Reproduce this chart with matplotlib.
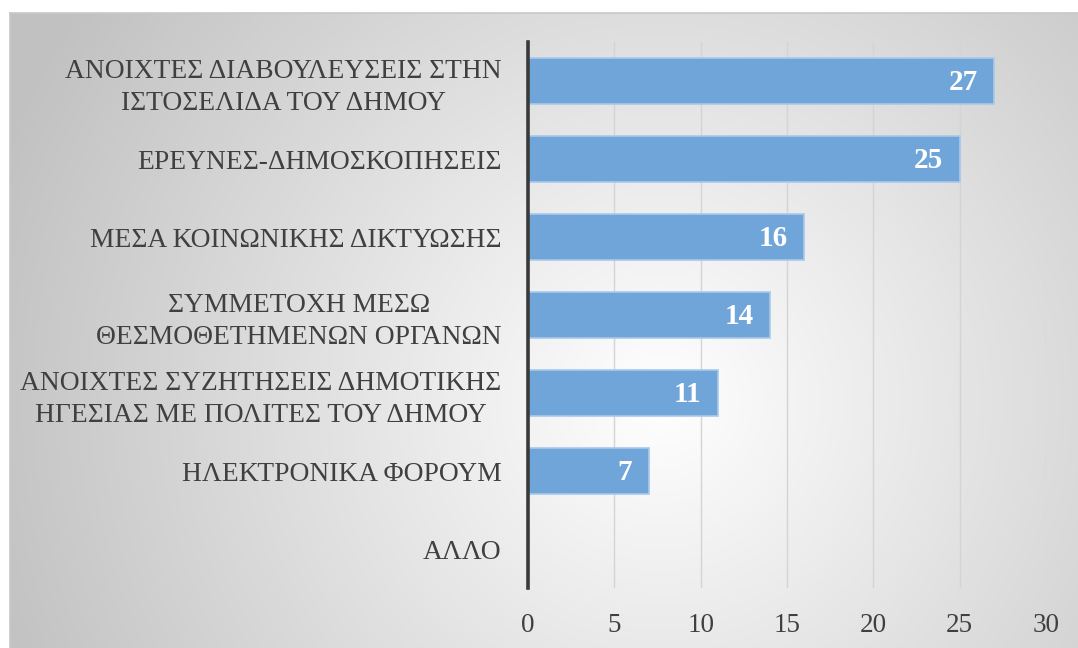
import numpy as np
import matplotlib.pyplot as plt

categories = [
    "ΑΝΟΙΧΤΕΣ ΔΙΑΒΟΥΛΕΥΣΕΙΣ ΣΤΗΝ\nΙΣΤΟΣΕΛΙΔΑ ΤΟΥ ΔΗΜΟΥ",
    "ΕΡΕΥΝΕΣ-ΔΗΜΟΣΚΟΠΗΣΕΙΣ",
    "ΜΕΣΑ ΚΟΙΝΩΝΙΚΗΣ ΔΙΚΤΥΩΣΗΣ",
    "ΣΥΜΜΕΤΟΧΗ ΜΕΣΩ\nΘΕΣΜΟΘΕΤΗΜΕΝΩΝ ΟΡΓΑΝΩΝ",
    "ΑΝΟΙΧΤΕΣ ΣΥΖΗΤΗΣΕΙΣ ΔΗΜΟΤΙΚΗΣ\nΗΓΕΣΙΑΣ ΜΕ ΠΟΛΙΤΕΣ ΤΟΥ ΔΗΜΟΥ",
    "ΗΛΕΚΤΡΟΝΙΚΑ ΦΟΡΟΥΜ",
    "ΑΛΛΟ",
]
values = [27, 25, 16, 14, 11, 7, 0]
xticks = [0, 5, 10, 15, 20, 25, 30]

plt.rcParams['font.family'] = ['Liberation Serif', 'DejaVu Serif']

W, H = 1078, 648
fig = plt.figure(figsize=(W / 100, H / 100), dpi=100)
fig.patch.set_facecolor('white')

# radial gradient panel behind the chart
bx0, by0 = 10, 13
bg = fig.add_axes([bx0 / W, 0, 1 - bx0 / W, 1 - by0 / H], zorder=0)
gw, gh = W - bx0, H - by0
yy, xx = np.mgrid[0:gh, 0:gw]
cx, cy = 660 - bx0, 400 - by0
d = np.sqrt((xx - cx) ** 2 + (yy - cy) ** 2)
shade = np.clip(1.0 - 0.22 * d / 640, 0.76, 1.0)
img = np.dstack([shade, shade, shade])
bg.imshow(img, aspect='auto', interpolation='bilinear')
bg.set_axis_off()
# thin light border along top and left edges
fig.add_artist(plt.Line2D([bx0 / W, 1], [1 - by0 / H] * 2, color='#c8c8c8', lw=1.2))
fig.add_artist(plt.Line2D([bx0 / W] * 2, [0, 1 - by0 / H], color='#c8c8c8', lw=1.2))

# plot area
x0, x1 = 528, 1046
y_top, y_bot = 42, 588
ax = fig.add_axes([x0 / W, 1 - y_bot / H, (x1 - x0) / W, (y_bot - y_top) / H], zorder=1)
ax.patch.set_alpha(0)

pos = np.arange(len(categories))
ax.barh(pos, values, height=0.59, color='#6fa5d8', edgecolor='#a9c9ea', linewidth=1.2, zorder=3)
ax.set_ylim(len(categories) - 0.5, -0.5)
ax.set_xlim(0, 30)
ax.set_xticks(xticks)
ax.set_xticklabels([str(t) for t in xticks])
ax.set_yticks(pos)
ax.set_yticklabels(categories, fontsize=19.8, color='#404040', linespacing=1.36)
for lbl in ax.get_yticklabels():
    lbl.set_multialignment('center')
ax.tick_params(axis='y', length=0, pad=19)
ax.tick_params(axis='x', length=0, pad=18, labelsize=19.5, labelcolor='#404040')

ax.grid(axis='x', color='#d4d4d4', lw=1.0, zorder=0)
for s in ['top', 'right', 'bottom']:
    ax.spines[s].set_visible(False)
ax.spines['left'].set_color('#3a3a3a')
ax.spines['left'].set_linewidth(2.6)
ax.spines['left'].set_zorder(4)

for p, v in zip(pos, values):
    if v > 0:
        ax.text(v - 0.95, p + 0.02, str(v), ha='right', va='center', color='white',
                fontsize=21, fontweight='bold', zorder=5)

fig.savefig('out.png', dpi=100, facecolor=fig.get_facecolor())
